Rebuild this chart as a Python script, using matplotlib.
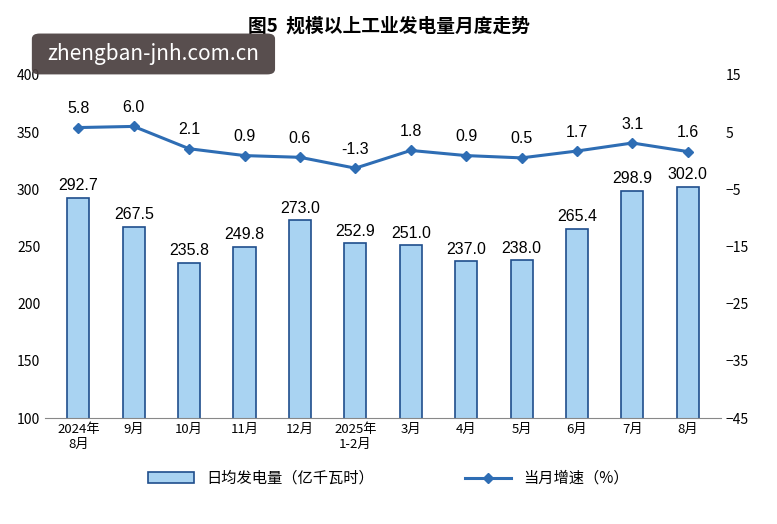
import matplotlib.pyplot as plt
import numpy as np
from matplotlib.patches import FancyBboxPatch

plt.rcParams['font.family'] = ['Noto Sans CJK SC', 'DejaVu Sans']

months = ["2024年\n8月", "9月", "10月", "11月", "12月", "2025年\n1-2月", "3月", "4月", "5月", "6月", "7月", "8月"]
daily_output = [292.7, 267.5, 235.8, 249.8, 273.0, 252.9, 251.0, 237.0, 238.0, 265.4, 298.9, 302.0]
growth = [5.8, 6.0, 2.1, 0.9, 0.6, -1.3, 1.8, 0.9, 0.5, 1.7, 3.1, 1.6]

fig = plt.figure(figsize=(7.77, 5.24), dpi=100)
ax = fig.add_axes([0.058, 0.202, 0.87, 0.655])
x = np.arange(len(months))

ax.bar(x, daily_output, width=0.4, color="#a9d3f2", edgecolor="#1f4e8c", linewidth=1.2, label="日均发电量（亿千瓦时）", zorder=2)
for xi, v in zip(x, daily_output):
    ax.text(xi, v + 4, f"{v:.1f}", ha="center", va="bottom", fontsize=11.5, family=["Liberation Sans"])
ax.set_ylim(100, 400)
ax.set_yticks(range(100, 401, 50))
ax.set_xlim(-0.6, len(months) - 0.4)
ax.set_xticks(x)
ax.set_xticklabels(months, fontsize=9.5)
ax.tick_params(axis="y", labelsize=10, length=0)
ax.tick_params(axis="x", length=0)
for s in ["top", "right", "left"]:
    ax.spines[s].set_visible(False)
ax.spines["bottom"].set_color("#888888")

ax2 = ax.twinx()
ax2.plot(x, growth, color="#2e6db4", marker="D", markersize=5, linewidth=2.2, label="当月增速（%）", zorder=3)
for xi, g in zip(x, growth):
    ax2.text(xi, g + 2.0, f"{g:.1f}", ha="center", va="bottom", fontsize=11.5, family=["Liberation Sans"])
ax2.set_ylim(-45, 15)
ax2.set_yticks(range(-45, 16, 10))
ax2.tick_params(axis="y", labelsize=10, length=0)
for s in ["top", "right", "left", "bottom"]:
    ax2.spines[s].set_visible(False)

fig.text(0.5, 0.95, "图5  规模以上工业发电量月度走势", ha="center", va="center", fontsize=13.5, fontweight="bold")

h1, l1 = ax.get_legend_handles_labels()
h2, l2 = ax2.get_legend_handles_labels()
fig.legend(h1 + h2, l1 + l2, loc="center", bbox_to_anchor=(0.5, 0.087), ncol=2, frameon=False, fontsize=11, columnspacing=6, handlelength=3)

# watermark box
wm = FancyBboxPatch((0.045, 0.862), 0.305, 0.07, boxstyle="round,pad=0.004,rounding_size=0.01",
                    transform=fig.transFigure, facecolor="#4a3f3f", edgecolor="none", alpha=0.92, zorder=10)
fig.patches.append(wm)
fig.text(0.197, 0.897, "zhengban-jnh.com.cn", ha="center", va="center", color="white", fontsize=15, zorder=11)

fig.savefig("out.png", dpi=100)
